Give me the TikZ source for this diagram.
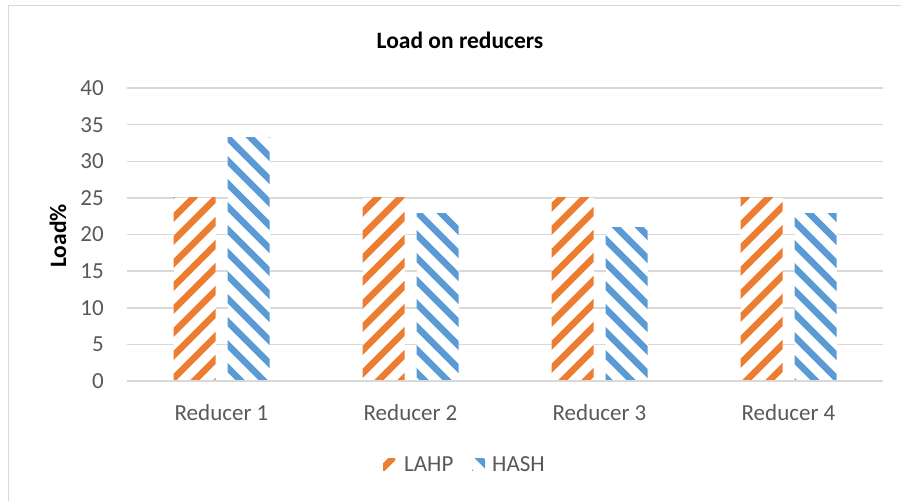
\documentclass[tikz,border=0pt]{standalone}
\usepackage{fontspec}
\setmainfont{Carlito}
\definecolor{lahp}{HTML}{ED7D31}
\definecolor{hash}{HTML}{5B9BD5}
\definecolor{gridc}{HTML}{D9D9D9}
\definecolor{txt}{HTML}{595959}
\newcommand\HatchUp[4]{%
  \begin{scope}
    \fill[white] (#1,#2) rectangle (#3,#4);
    \clip (#1,#2) rectangle (#3,#4);
    \foreach \c in {0,23,...,1500} \draw[lahpstripe] (\c-600,600) -- (\c,0);
  \end{scope}}
\newcommand\HatchDown[4]{%
  \begin{scope}
    \fill[white] (#1,#2) rectangle (#3,#4);
    \clip (#1,#2) rectangle (#3,#4);
    \foreach \c in {-600,-577,...,920} \draw[hashstripe] (\c,0) -- (\c+600,600);
  \end{scope}}
\begin{document}
\begin{tikzpicture}[x=1pt,y=-1pt,
  gridline/.style={draw=gridc, line width=1.5pt},
  lahpstripe/.style={draw=lahp, line width=6.5pt},
  hashstripe/.style={draw=hash, line width=6.5pt},
  ticklab/.style={text=txt, font=\fontsize{23}{23}\selectfont, inner sep=0pt},
  titlelab/.style={text=black, font=\bfseries\fontsize{23.5}{23.5}\selectfont, inner sep=0pt}]
\useasboundingbox (0,0) rectangle (901,501);
\fill[white] (0,0) rectangle (901,501);
% outer frame (only top and left visible)
\draw[draw=gridc, line width=1.5pt] (8.5,501) -- (8.5,5.5) -- (901,5.5);
% title
\node[titlelab, anchor=base] (title) at (460,48) {Load on reducers};
% y axis label
\node[titlelab, rotate=90] (ylab) at (58,236) {Load\%};
% grid lines and tick labels
\foreach \v in {5,10,...,40} {
  \draw[gridline] (127,381-7.325*\v) -- (883,381-7.325*\v);
}
\foreach \v in {0,5,...,40} {
  \node[ticklab, anchor=east] (tick\v) at (104,381-7.325*\v) {\v};
}
% bars
\foreach \i/\h in {1/33.3,2/22.9,3/20.9,4/22.9} {
  \pgfmathsetmacro\cx{127+189*(\i-0.5)}
  \HatchUp{\cx-48}{197.9}{\cx-6}{381}
  \HatchDown{\cx+6}{381-7.325*\h}{\cx+48}{381}
  \node[ticklab, anchor=base] (cat\i) at (\cx,420) {Reducer \i};
}
% axis line
\draw[gridline] (127,381) -- (883,381);
% legend
\HatchUp{383}{458}{395}{470}
\node[ticklab, anchor=base west] (leg1) at (404,471.5) {LAHP};
\HatchDown{472}{458}{485}{470}
\node[ticklab, anchor=base west] (leg2) at (492,471.5) {HASH};
\end{tikzpicture}
\end{document}
